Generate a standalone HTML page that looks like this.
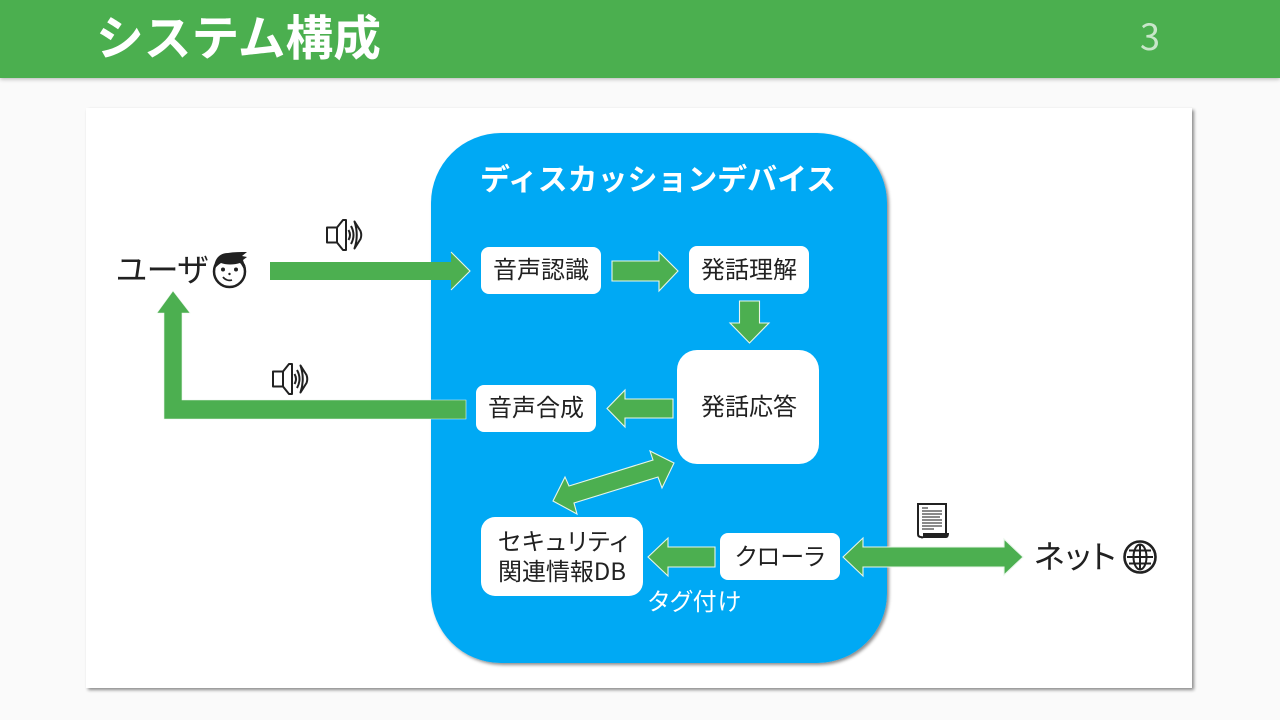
<!DOCTYPE html>
<html lang="ja"><head><meta charset="utf-8"><style>
html,body{margin:0;padding:0;width:1280px;height:720px;overflow:hidden;background:#fafafa}
svg{display:block}
text{font-family:"Liberation Sans","Noto Sans CJK JP",sans-serif;fill:#212121;font-size:24px}
.j{font-family:"Noto Sans CJK JP",sans-serif}
.p{font-feature-settings:"palt"}
.a{fill:#4caf50;stroke:#e8f5e9;stroke-width:1.100}
.i{fill:#fff;stroke:#212121;stroke-width:2;stroke-linejoin:round}
.w{fill:none;stroke:#212121;stroke-width:2;stroke-linejoin:round}
</style></head><body>
<svg width="1280" height="720" viewBox="0 0 1280 720" xmlns="http://www.w3.org/2000/svg">
<defs>
<filter id="s" x="-5%" y="-5%" width="110%" height="110%"><feDropShadow dx="2" dy="2" stdDeviation="1.5" flood-color="#000" flood-opacity=".45"/></filter>
<filter id="h" x="-5%" y="-20%" width="110%" height="150%"><feDropShadow dx="0" dy="1" stdDeviation="2" flood-color="#000" flood-opacity=".3"/></filter>
<g id="sp">
<path class="i" d="M1 8.500H11L17 1H20V31H17L11 23.500H1Z"/>
<path class="i" d="M11 8.500V23.500"/>
<path class="w" d="M22.500 11Q25.500 16 22.500 21"/>
<path class="w" d="M25 7Q30 16 25 25"/>
<path class="w" d="M28.500 2.500L34.500 12Q36 16 34.500 20L28.500 29.500Q33 16 28.500 2.500Z"/>
</g>
</defs>
<rect width="1280" height="78" fill="#4caf50" filter="url(#h)"/>
<text class="j" x="96" y="55" style="font-size:48px;font-weight:700;fill:#fff" textLength="285" lengthAdjust="spacingAndGlyphs">システム構成</text>
<text class="j" x="1140" y="50" style="font-size:36px;fill:#c8e6c9">3</text>
<rect x="86" y="108" width="1106" height="580" fill="#fff" filter="url(#s)"/>
<rect x="431" y="133" width="456" height="530" rx="70" fill="#03a9f4" filter="url(#s)"/>
<text class="j" x="480" y="190" style="font-size:30px;font-weight:700;fill:#fff" textLength="356" lengthAdjust="spacingAndGlyphs">ディスカッションデバイス</text>

<g fill="#fff">
<rect x="481" y="247" width="120" height="47" rx="8"/>
<rect x="689" y="246" width="120" height="48" rx="8"/>
<rect x="677" y="350" width="142" height="114" rx="20"/>
<rect x="476" y="385" width="120" height="47" rx="8"/>
<rect x="481" y="517" width="162" height="79" rx="14"/>
<rect x="720" y="533" width="120" height="47" rx="8"/>
</g>
<text class="j" x="493" y="278">音声認識</text>
<text class="j" x="701" y="278">発話理解</text>
<text class="j" x="701" y="415">発話応答</text>
<text class="j" x="488" y="416">音声合成</text>
<text class="j p" x="498" y="550" textLength="130">セキュリティ</text>
<text class="j" x="498" y="580" textLength="128">関連情報DB</text>
<text class="j p" x="735" y="565" textLength="90">クローラ</text>
<text class="j p" x="648" y="610" style="fill:#fff" textLength="93">タグ付け</text>
<text class="j p" x="116" y="281" style="font-size:32px" textLength="92">ユーザ</text>
<text class="j p" x="1034" y="568" style="font-size:32px" textLength="82">ネット</text>

<path d="M270 262H451V252L470 271L451 290V280H270Z" fill="#4caf50"/>
<path class="a" fill="none" d="M451 252L470 271L451 290"/>
<path class="a" d="M612 261H659V252L678 271L659 291V281H612Z"/>
<path class="a" d="M739.500 301H759.500V323H769L749.500 343L730 323H739.500Z"/>
<path class="a" d="M673 399H625V390L607 408.500L625 427V418H673Z"/>
<path class="a" d="M715 547H668V538L648 557L668 576V567H715Z"/>
<path d="M466 400H182V313H190L173 291L157 313H164V419H466Z" fill="#4caf50" stroke="#e8f5e9" stroke-width=".6"/>
<path class="a" d="M553 501L565 477L569 486L653 460L650 451L674 463L662 488L658 477L574 503L577 514Z"/>
<path class="a" d="M843 557L863 538V547H1004V539L1023 557L1004 575V567H863V576Z"/>

<use href="#sp" x="326" y="219"/>
<use href="#sp" x="272" y="363"/>

<!-- user icon -->
<g>
<circle cx="229.500" cy="271.500" r="15.500" fill="#fff" stroke="#212121" stroke-width="2.500"/>
<path d="M214.500 269C213.500 260 219 253 228 253C234 252 240 252 247 252L242 256L247 257L243 260L244 263C246 266 246 268 245 271C243 268 242 265 240 263C234 265 226 265 221 263C218 265 216 267 214.500 269Z" fill="#212121"/>
<circle cx="223" cy="269.500" r="2" fill="#212121"/><circle cx="236" cy="269.500" r="2" fill="#212121"/>
<circle cx="229.500" cy="274" r="1.200" fill="#212121"/>
<path d="M223 277C225 280 229 281 232 280" fill="none" stroke="#212121" stroke-width="1.700"/>
</g>

<!-- document icon -->
<g>
<path d="M918 504H946V534H924V536C924 537 922 538 921 537C919 537 918 536 918 534Z" fill="#fff" stroke="#212121" stroke-width="2"/>
<path d="M924 533H949C949 536 948 538 946 538H921C923 537 924 535 924 533Z" fill="#212121"/>
<path d="M922 508H928M922 511H942M922 514H942M922 517H940M922 520H942M922 523H942M922 526H942M922 529H934" stroke="#444" stroke-width="1.200"/>
</g>

<!-- globe icon -->
<g fill="none" stroke="#212121">
<circle cx="1140" cy="557" r="15.500" stroke-width="2.600"/>
<ellipse cx="1140" cy="557" rx="6.500" ry="12.500" stroke-width="2"/>
<path d="M1140 544V570M1127 557H1153M1129 550.500H1151M1129 563.500H1151" stroke-width="2"/>
</g>
</svg>
</body></html>
